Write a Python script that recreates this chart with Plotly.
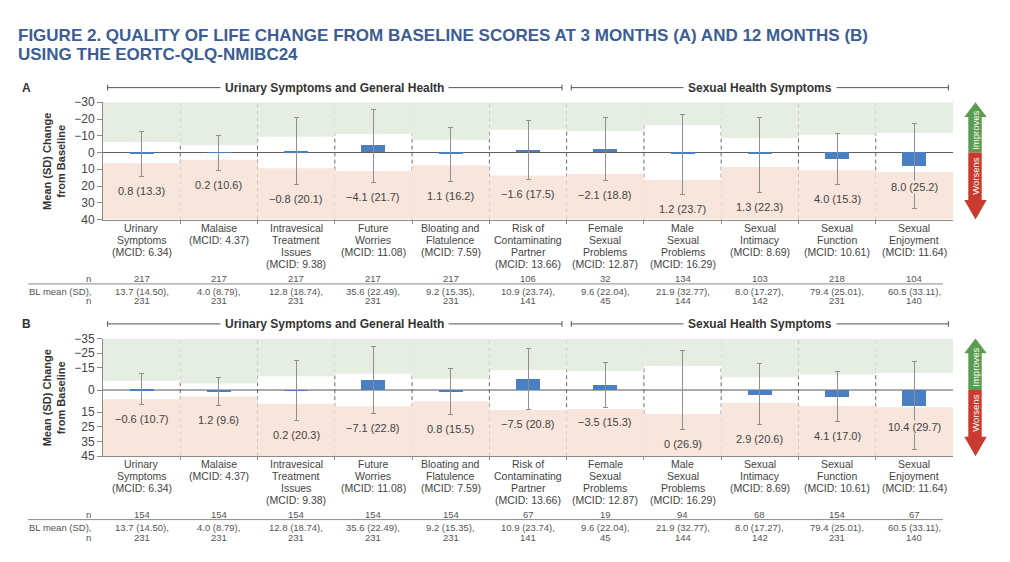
import plotly.graph_objects as go

# ---------------- data ----------------
domain_names = ["Urinary<br>Symptoms", "Malaise", "Intravesical<br>Treatment<br>Issues",
                "Future<br>Worries", "Bloating and<br>Flatulence",
                "Risk of<br>Contaminating<br>Partner", "Female<br>Sexual<br>Problems",
                "Male<br>Sexual<br>Problems", "Sexual<br>Intimacy", "Sexual<br>Function",
                "Sexual<br>Enjoyment"]
mcid = [6.34, 4.37, 9.38, 11.08, 7.59, 13.66, 12.87, 16.29, 8.69, 10.61, 11.64]

mean_3m = [0.8, 0.2, -0.8, -4.1, 1.1, -1.6, -2.1, 1.2, 1.3, 4.0, 8.0]
sd_3m = [13.3, 10.6, 20.1, 21.7, 16.2, 17.5, 18.8, 23.7, 22.3, 15.3, 25.2]
n_3m = [217, 217, 217, 217, 217, 106, 32, 134, 103, 218, 104]

mean_12m = [-0.6, 1.2, 0.2, -7.1, 0.8, -7.5, -3.5, 0, 2.9, 4.1, 10.4]
sd_12m = [10.7, 9.6, 20.3, 22.8, 15.5, 20.8, 15.3, 26.9, 20.6, 17.0, 29.7]
n_12m = [154, 154, 154, 154, 154, 67, 19, 94, 68, 154, 67]

bl_mean = [13.7, 4.0, 12.8, 35.6, 9.2, 10.9, 9.6, 21.9, 8.0, 79.4, 60.5]
bl_sd = [14.50, 8.79, 18.74, 22.49, 15.35, 23.74, 22.04, 32.77, 17.27, 25.01, 33.11]
bl_n = [231, 231, 231, 231, 231, 141, 45, 144, 142, 231, 140]

group_names = ["Urinary Symptoms and General Health", "Sexual Health Symptoms"]
group_sizes = [6, 5]

yticks_a = [-30, -20, -10, 0, 10, 20, 30, 40]
yticks_b = [-35, -25, -15, 0, 15, 25, 35, 45]

title_lines = ["FIGURE 2. QUALITY OF LIFE CHANGE FROM BASELINE SCORES AT 3 MONTHS (A) AND 12 MONTHS (B)",
               "USING THE EORTC-QLQ-NMIBC24"]

# ---------------- styling ----------------
W, H = 1010, 562
FONT = "Liberation Sans, Arial, sans-serif"
BAR = "#4a80c3"
ERR = "#8f8f8f"
AX = "#8a8a8a"
GREEN_BG = "#e6eee3"
PINK_BG = "#f8e5dc"
TXT = "#444444"
TXT2 = "#555555"
TITLE_C = "#3c5d93"
PLOT_L, PLOT_R = 103, 953
CAT_LINE = 12.3


def px(x):
    return x / W


def py(y):
    return 1 - y / H


def fmt_num(v):
    s = "0" if v == 0 else f"{v:.1f}"
    return s.replace("-", "\u2212")


def fmt_tick(v):
    return str(v).replace("-", "\u2212")


panels = [
    dict(letter="A", top=97.7, bottom=218.0, rng=(-30, 40), ticks=yticks_a,
         mean=mean_3m, sd=sd_3m, n=n_3m, header_y=82.7, cat_y=226.7,
         n_y=278.3, rule_y=284.0, bl1_y=291.7, bl2_y=300.7),
    dict(letter="B", top=340.0, bottom=460.7, rng=(-35, 45), ticks=yticks_b,
         mean=mean_12m, sd=sd_12m, n=n_12m, header_y=325.0, cat_y=469.0,
         n_y=520.0, rule_y=525.7, bl1_y=534.0, bl2_y=544.3),
]

ncat = len(domain_names)
xs = list(range(ncat))
cat_labels = [f"{d}<br>(MCID: {m:.2f})" for d, m in zip(domain_names, mcid)]

fig = go.Figure()
shapes = []
annotations = []
layout = {}

for k, p in enumerate(panels):
    xa = "x" if k == 0 else "x2"
    ya = "y" if k == 0 else "y2"
    xname = "xaxis" if k == 0 else "xaxis2"
    yname = "yaxis" if k == 0 else "yaxis2"
    r0, r1 = p["rng"]
    top, bottom = p["top"], p["bottom"]
    ppu = (bottom - top) / (r1 - r0)
    zero_px = top + (0 - r0) * ppu

    # shading + separators
    for i, m in enumerate(mcid):
        shapes.append(dict(type="rect", xref=xa, yref=ya, x0=i - 0.5, x1=i + 0.5,
                           y0=r0, y1=-m, fillcolor=GREEN_BG, line=dict(width=0), layer="below"))
        shapes.append(dict(type="rect", xref=xa, yref=ya, x0=i - 0.5, x1=i + 0.5,
                           y0=m, y1=r1, fillcolor=PINK_BG, line=dict(width=0), layer="below"))
    for i in range(ncat - 1):
        shapes.append(dict(type="line", xref=xa, yref=f"{ya} domain", x0=i + 0.5, x1=i + 0.5,
                           y0=0, y1=1, line=dict(color="#6a6a6a", width=1, dash="4px,3px"),
                           layer="below"))
    shapes.append(dict(type="line", xref=xa, yref=ya, x0=-0.5, x1=ncat - 0.5, y0=0, y1=0,
                       line=dict(color="#5a5a5a", width=1), layer="below"))

    fig.add_trace(go.Bar(
        x=xs, y=p["mean"], width=0.31, xaxis=xa, yaxis=ya,
        marker=dict(color=BAR, line=dict(width=0)),
        error_y=dict(type="data", array=p["sd"], visible=True, color=ERR,
                     thickness=1, width=2.5),
        hoverinfo="skip", showlegend=False))

    layout[xname] = dict(domain=[px(PLOT_L), px(PLOT_R)], range=[-0.5, ncat - 0.5], anchor=ya,
                         showline=True, linecolor=AX, linewidth=1, ticks="outside", ticklen=3,
                         tickcolor=AX, tickvals=[i + 0.5 for i in range(ncat - 1)],
                         showticklabels=False, showgrid=False, zeroline=False, fixedrange=True)
    layout[yname] = dict(domain=[py(bottom), py(top)], range=[r1, r0], anchor=xa,
                         tickvals=p["ticks"], ticktext=[fmt_tick(t) for t in p["ticks"]],
                         ticks="outside", ticklen=5, tickcolor=AX, showline=True, linecolor=AX,
                         linewidth=1, showgrid=False, zeroline=False, fixedrange=True,
                         tickfont=dict(family=FONT, size=12, color=TXT))

    # value labels
    for i, (m, s) in enumerate(zip(p["mean"], p["sd"])):
        hi = m + s
        hi_px = top + (hi - r0) * ppu
        if hi_px + 14.5 + 7 <= bottom:
            ly, shift = hi, -14.5
        else:
            ly, shift = (m + hi) / 2, 0
        annotations.append(dict(xref=xa, yref=ya, x=i, y=ly, yshift=shift,
                                text=f"{fmt_num(m)} ({s:.1f})", showarrow=False,
                                font=dict(family=FONT, size=11, color=TXT),
                                bgcolor=PINK_BG, borderpad=0, xanchor="center", yanchor="middle"))

    # category labels (one annotation per line for tight spacing)
    for i, lab in enumerate(cat_labels):
        for j, part in enumerate(lab.split("<br>")):
            annotations.append(dict(xref=xa, yref="paper", x=i, y=py(p["cat_y"] + j * CAT_LINE),
                                    text=part, showarrow=False,
                                    font=dict(family=FONT, size=10.5, color=TXT),
                                    xanchor="center", yanchor="middle"))

    # table rows
    for i in range(ncat):
        annotations.append(dict(xref=xa, yref="paper", x=i, y=py(p["n_y"]), text=str(p["n"][i]),
                                showarrow=False, font=dict(family=FONT, size=9.5, color=TXT2),
                                xanchor="center", yanchor="middle"))
        annotations.append(dict(xref=xa, yref="paper", x=i, y=py(p["bl1_y"]),
                                text=f"{bl_mean[i]:.1f} ({bl_sd[i]:.2f}),",
                                showarrow=False, font=dict(family=FONT, size=9.5, color=TXT2),
                                xanchor="center", yanchor="middle"))
        annotations.append(dict(xref=xa, yref="paper", x=i, y=py(p["bl2_y"]), text=str(bl_n[i]),
                                showarrow=False, font=dict(family=FONT, size=9.5, color=TXT2),
                                xanchor="center", yanchor="middle"))
    for txt, yy in (("n", p["n_y"]), ("BL mean (SD),", p["bl1_y"]), ("n", p["bl2_y"])):
        annotations.append(dict(xref="paper", yref="paper", x=px(93), y=py(yy), text=txt,
                                showarrow=False, font=dict(family=FONT, size=9.5, color=TXT2),
                                xanchor="right", yanchor="middle"))
    shapes.append(dict(type="line", xref="paper", yref="paper", x0=px(28), x1=px(943),
                       y0=py(p["rule_y"]), y1=py(p["rule_y"]), line=dict(color=AX, width=1)))

    # group brackets
    start = 0
    for gname, gsize in zip(group_names, group_sizes):
        gx0 = start - 0.5 + 0.06
        gx1 = start + gsize - 0.5 - 0.06
        hy = py(p["header_y"])
        shapes.append(dict(type="line", xref=xa, yref="paper", x0=gx0, x1=gx1, y0=hy, y1=hy,
                           line=dict(color="#555555", width=1)))
        for ex in (gx0, gx1):
            shapes.append(dict(type="line", xref=xa, yref="paper", x0=ex, x1=ex,
                               y0=py(p["header_y"] - 3), y1=py(p["header_y"] + 3),
                               line=dict(color="#555555", width=1)))
        annotations.append(dict(xref=xa, yref="paper", x=(gx0 + gx1) / 2, y=hy, text=f"<b>{gname}</b>",
                                showarrow=False, font=dict(family=FONT, size=12, color="#333333"),
                                bgcolor="white", borderpad=4, xanchor="center", yanchor="middle"))
        start += gsize

    # panel letter
    annotations.append(dict(xref="paper", yref="paper", x=px(20), y=py(p["header_y"]),
                            text=f"<b>{p['letter']}</b>", showarrow=False,
                            font=dict(family=FONT, size=12, color="#333333"),
                            xanchor="left", yanchor="middle"))
    # y title
    annotations.append(dict(xref="paper", yref="paper", x=px(54), y=py((top + bottom) / 2 + 1),
                            text="<b>Mean (SD) Change<br>from Baseline</b>", showarrow=False,
                            textangle=-90, font=dict(family=FONT, size=11, color="#333333"),
                            xanchor="center", yanchor="middle"))

    # improves / worsens arrow
    ax0, ax1, sx0, sx1, axc = 964.3, 986.7, 968.3, 981.7, 975.5
    hb_top = top + 15
    hb_bot = bottom - 20
    gpath = (f"M {px(ax0)},{py(hb_top)} L {px(axc)},{py(top)} L {px(ax1)},{py(hb_top)} "
             f"L {px(sx1)},{py(hb_top)} L {px(sx1)},{py(zero_px)} L {px(sx0)},{py(zero_px)} "
             f"L {px(sx0)},{py(hb_top)} Z")
    rpath = (f"M {px(ax0)},{py(hb_bot)} L {px(axc)},{py(bottom)} L {px(ax1)},{py(hb_bot)} "
             f"L {px(sx1)},{py(hb_bot)} L {px(sx1)},{py(zero_px)} L {px(sx0)},{py(zero_px)} "
             f"L {px(sx0)},{py(hb_bot)} Z")
    shapes.append(dict(type="path", xref="paper", yref="paper", path=gpath,
                       fillcolor="#5c9c50", line=dict(width=0)))
    shapes.append(dict(type="path", xref="paper", yref="paper", path=rpath,
                       fillcolor="#c93b2f", line=dict(width=0)))
    annotations.append(dict(xref="paper", yref="paper", x=px(axc), y=py((top + zero_px) / 2 + 3),
                            text="Improves", textangle=-90, showarrow=False,
                            font=dict(family=FONT, size=9.5, color="white"),
                            xanchor="center", yanchor="middle"))
    annotations.append(dict(xref="paper", yref="paper", x=px(axc), y=py((zero_px + bottom) / 2 - 10),
                            text="Worsens", textangle=-90, showarrow=False,
                            font=dict(family=FONT, size=9.5, color="white"),
                            xanchor="center", yanchor="middle"))

# title
for line, yy in zip(title_lines, (29.5, 49.0)):
    annotations.append(dict(xref="paper", yref="paper", x=px(17), y=py(yy), text=f"<b>{line}</b>",
                            showarrow=False, font=dict(family=FONT, size=17, color=TITLE_C),
                            xanchor="left", yanchor="middle", borderpad=0))

fig.update_layout(width=W, height=H, autosize=False, margin=dict(l=0, r=0, t=0, b=0),
                  paper_bgcolor="white", plot_bgcolor="white", bargap=0,
                  shapes=shapes, annotations=annotations, showlegend=False,
                  font=dict(family=FONT), **layout)

fig.write_html("out.html", config={"displayModeBar": False})
